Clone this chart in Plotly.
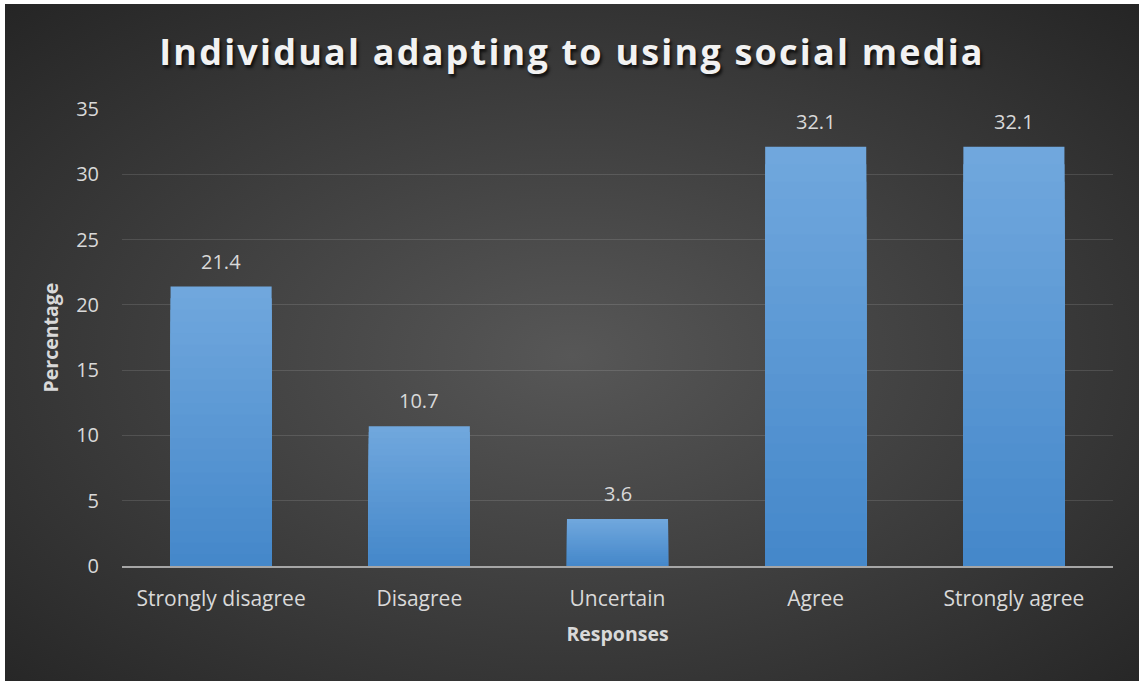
import base64
import plotly.graph_objects as go

# Survey data
categories = ["Strongly disagree", "Disagree", "Uncertain", "Agree", "Strongly agree"]
percentages = [21.4, 10.7, 3.6, 32.1, 32.1]
y_ticks = [0, 5, 10, 15, 20, 25, 30, 35]

W, H = 1139, 681
ML, MR, MT, MB = 122, 26, 109, 115
PW, PH = W - ML - MR, H - MT - MB

FONT = "Open Sans"
LABEL = "#d9d9d9"

# Dark radial-gradient backdrop as an inline SVG
BX, BY = 5, 4
BW, BH = W - BX, H - BY
svg = f"""<svg xmlns='http://www.w3.org/2000/svg' width='{BW}' height='{BH}'>
<defs><radialGradient id='g' cx='0.5' cy='0.52' r='0.72'>
<stop offset='0' stop-color='#575757'/>
<stop offset='1' stop-color='#252525'/>
</radialGradient></defs>
<rect width='{BW}' height='{BH}' fill='url(#g)'/></svg>"""
bg_src = "data:image/svg+xml;base64," + base64.b64encode(svg.encode()).decode()

fig = go.Figure()

# Bars with a vertical light-to-dark gradient, built by overlaying
# progressively shorter, darker bars of the same values.
top_rgb = (0x70, 0xa7, 0xdd)
bot_rgb = (0x45, 0x88, 0xca)
steps = 24
for k in range(steps):
    frac = 1 - k / steps
    t = k / (steps - 1)
    c = tuple(round(a + (b - a) * t) for a, b in zip(top_rgb, bot_rgb))
    fig.add_trace(go.Bar(
        x=categories,
        y=[v * frac for v in percentages],
        marker=dict(color=f"rgb{c}", line=dict(width=0)),
        width=0.51,
        hoverinfo="skip" if k else None,
        showlegend=False,
    ))

# Value labels above each bar
for cat, v in zip(categories, percentages):
    fig.add_annotation(
        x=cat, y=v, text=f"{v}", showarrow=False,
        yanchor="bottom", yshift=10,
        font=dict(family=FONT, size=20, color=LABEL),
    )

fig.update_layout(
    width=W, height=H,
    margin=dict(l=ML, r=MR, t=MT, b=MB),
    barmode="overlay",
    paper_bgcolor="white",
    plot_bgcolor="rgba(0,0,0,0)",
    title=dict(
        text="Individual adapting to using social media",
        x=572 / W, xref="container", xanchor="center",
        y=1 - 52 / H, yref="container", yanchor="middle",
        font=dict(family=FONT, size=36, color="#f2f2f2", weight="bold",
                  shadow="2px 3px 3px rgba(0,0,0,0.7)"),
    ),
    images=[dict(
        source=bg_src, xref="paper", yref="paper",
        x=(BX - ML) / PW, y=(H - MB - BY) / PH,
        sizex=BW / PW, sizey=BH / PH,
        xanchor="left", yanchor="top", sizing="stretch", layer="below",
    )],
    xaxis=dict(
        title=dict(text="Responses", standoff=16,
                   font=dict(family=FONT, size=19.5, color=LABEL, weight="bold")),
        tickfont=dict(family=FONT, size=21, color=LABEL),
        showgrid=False, showline=True, linecolor="#a6a6a6", linewidth=2,
        ticks="outside", ticklen=13, tickcolor="rgba(0,0,0,0)",
    ),
    yaxis=dict(
        title=dict(text="Percentage", standoff=12,
                   font=dict(family=FONT, size=19.5, color=LABEL, weight="bold")),
        range=[0, 35], tickvals=y_ticks,
        tickfont=dict(family=FONT, size=20, color=LABEL),
        showgrid=True, gridcolor="rgba(255,255,255,0.12)", gridwidth=1,
        zeroline=False, showline=False,
        ticks="outside", ticklen=18, tickcolor="rgba(0,0,0,0)",
    ),
)

# Spaced-out title lettering
spacing_js = (
    "document.querySelectorAll('.gtitle').forEach("
    "function(e){e.style.letterSpacing='2.2px';});"
)

fig.write_html("out.html", post_script=spacing_js)
